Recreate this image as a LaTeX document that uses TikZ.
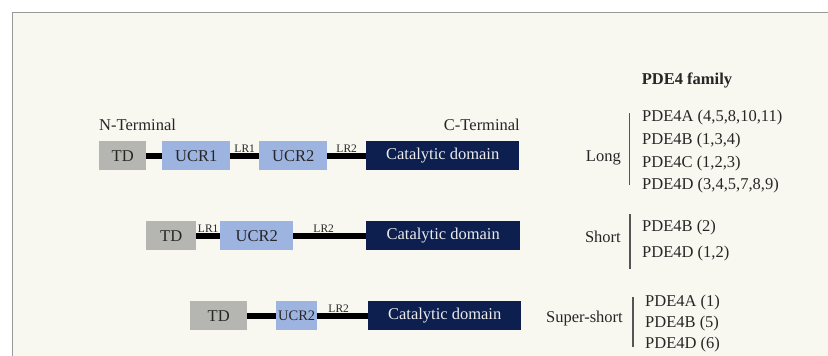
\documentclass[tikz,border=0pt]{standalone}
\usepackage{fontspec}
\setmainfont{Liberation Serif}
\definecolor{bgc}{HTML}{F8F8F1}
\definecolor{tdc}{HTML}{B5B5B1}
\definecolor{ucrc}{HTML}{9EB4E0}
\definecolor{catc}{HTML}{0C1F4F}
\definecolor{framec}{HTML}{9A9A9A}
\definecolor{brc}{HTML}{555555}
\tikzset{
  dom/.style={draw=none, inner sep=0pt, minimum height=29pt, font=\fontsize{16.5}{19}\selectfont, text=black!85},
  tdbox/.style={dom, fill=tdc},
  ucrbox/.style={dom, fill=ucrc},
  catbox/.style={dom, fill=catc, text=white!92!black},
  link/.style={line width=5.6pt, black},
  lr/.style={inner sep=0pt, font=\fontsize{11.5}{13}\selectfont, anchor=south, text=black!85},
  txt/.style={inner sep=0pt, font=\fontsize{16.5}{19}\selectfont, text height=11.5pt, text depth=3.5pt, text=black!85},
  bracket/.style={line width=1.2pt, brc},
}
\begin{document}
\begin{tikzpicture}[x=1pt,y=-1pt]
\useasboundingbox (0,0) rectangle (828,356);
\fill[white] (0,0) rectangle (828,356);
\fill[bgc] (12,12) rectangle (828,356);
\draw[framec, line width=1.8pt] (828,12.5) -- (12.5,12.5) -- (12.5,356);

% Long
\node[txt, anchor=west] (nterm) at (99,126) {N-Terminal};
\node[txt, anchor=east] (cterm) at (520,126) {C-Terminal};
\node[tdbox, minimum width=47pt, anchor=north west] (td1) at (99,141) {TD};
\node[ucrbox, minimum width=68pt, anchor=north west] (u11) at (162,141) {UCR1};
\node[ucrbox, minimum width=68pt, anchor=north west] (u12) at (259,141) {UCR2};
\node[catbox, minimum width=153pt, anchor=north west] (cat1) at (366,141) {Catalytic domain};
\draw[link] (td1.east) -- (u11.west);
\draw[link] (u11.east) -- coordinate (lr11) (u12.west);
\draw[link] (u12.east) -- coordinate (lr12) (cat1.west);
\node[lr] (lr1a) at ([yshift=3.5pt]lr11) {LR1};
\node[lr] (lr2a) at ([yshift=3.5pt]lr12) {LR2};

% Short
\node[tdbox, minimum width=50pt, anchor=north west] (td2) at (146,221) {TD};
\node[ucrbox, minimum width=73pt, anchor=north west] (u22) at (220,221) {UCR2};
\node[catbox, minimum width=154pt, anchor=north west] (cat2) at (366,221) {Catalytic domain};
\draw[link] (td2.east) -- coordinate (lr21) (u22.west);
\draw[link] (u22.east) -- coordinate (lr22) (cat2.west);
\node[lr] (lr1b) at ([yshift=3.5pt]lr21) {LR1};
\node[lr] (lr2b) at ([yshift=3.5pt,xshift=-6pt]lr22) {LR2};

% Super-short
\node[tdbox, minimum width=57pt, anchor=north west] (td3) at (190,301) {TD};
\node[ucrbox, minimum width=41pt, anchor=north west, font=\fontsize{14.5}{17}\selectfont] (u32) at (276,301) {UCR2};
\node[catbox, minimum width=153pt, anchor=north west] (cat3) at (368,301) {Catalytic domain};
\draw[link] (td3.east) -- (u32.west);
\draw[link] (u32.east) -- coordinate (lr32) (cat3.west);
\node[lr] (lr2c) at ([yshift=3.5pt,xshift=-4pt]lr32) {LR2};

% Right side
\node[txt, font=\fontsize{16.5}{19}\selectfont\bfseries] (fam) at (687,80) {PDE4 family};

\node[txt, anchor=east] (long) at (621,157) {Long};
\coordinate (b1t) at (629.5,113);
\coordinate (b1b) at (629.5,185);
\draw[bracket] (b1t) -- (b1b);
\node[txt, anchor=west] (l1) at (642,117) {PDE4A (4,5,8,10,11)};
\node[txt, anchor=west] (l2) at (642,140) {PDE4B (1,3,4)};
\node[txt, anchor=west] (l3) at (642,163) {PDE4C (1,2,3)};
\node[txt, anchor=west] (l4) at (642,185) {PDE4D (3,4,5,7,8,9)};

\node[txt, anchor=east] (short) at (621,238) {Short};
\coordinate (b2t) at (630,214);
\coordinate (b2b) at (630,269);
\draw[bracket] (b2t) -- (b2b);
\node[txt, anchor=west] (s1) at (642,227) {PDE4B (2)};
\node[txt, anchor=west] (s2) at (642,253) {PDE4D (1,2)};

\node[txt, anchor=east] (sshort) at (623,318) {Super-short};
\coordinate (b3t) at (633,297);
\coordinate (b3b) at (633,347);
\draw[bracket] (b3t) -- (b3b);
\node[txt, anchor=west] (ss1) at (645,302) {PDE4A (1)};
\node[txt, anchor=west] (ss2) at (645,323) {PDE4B (5)};
\node[txt, anchor=west] (ss3) at (645,344) {PDE4D (6)};
\end{tikzpicture}
\end{document}
